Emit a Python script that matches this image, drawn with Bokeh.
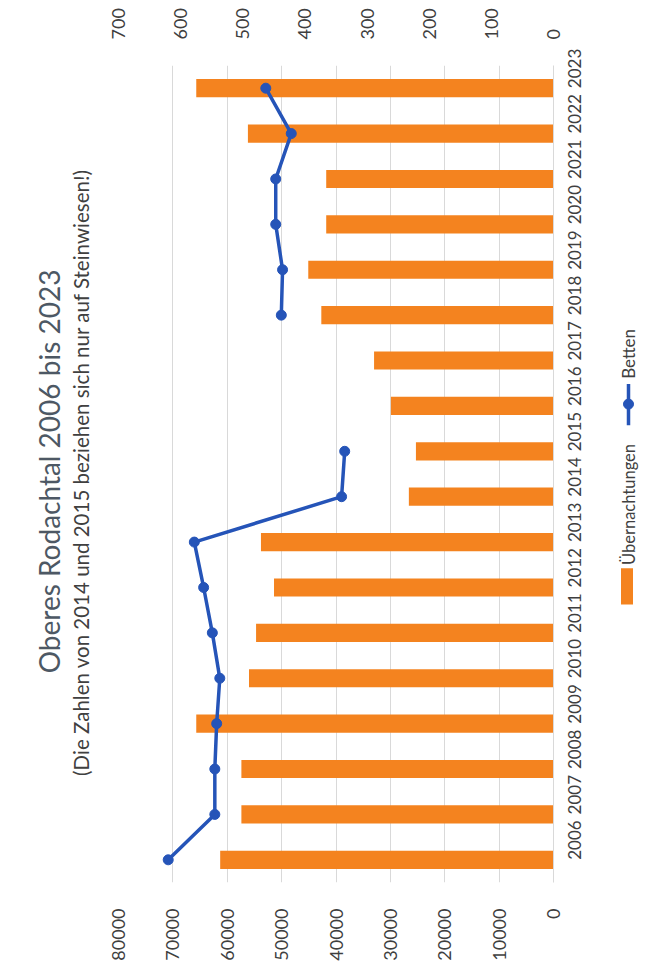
import math
from bokeh.plotting import figure
from bokeh.models import (Range1d, FactorRange, LinearAxis, FixedTicker,
                          NumeralTickFormatter)
from bokeh.layouts import row
from bokeh.embed import file_html
from bokeh.resources import INLINE
from bokeh.core.properties import value

nan = float("nan")

# ---- data ----
years = [str(y) for y in range(2006, 2024)]
uebernachtungen = [61300, 57400, 57400, 65700, 56000, 54700, 51400, 53800,
                   26600, 25300, 29900, 33000, 42700, 45100, 41800, 41800,
                   56200, 65700]
betten = [620, 545, 545, 542, 537, 549, 563, 578,
          341, 336, nan, nan, 438, 436, 447, 447, 422, 463]
left_ticks = [0, 10000, 20000, 30000, 40000, 50000, 60000, 70000, 80000]
right_ticks = [0, 100, 200, 300, 400, 500, 600, 700]
title_text = "Oberes Rodachtal 2006 bis 2023"
subtitle_text = "(Die Zahlen von 2014 und 2015 beziehen sich nur auf Steinwiesen!)"
legend_labels = ["Übernachtungen", "Betten"]

ORANGE = "#f4831f"
BLUE = "#2554b8"
FONT = "Lato"
LABEL_COLOR = "#3f3f3f"
H = 970
UP = math.pi / 2   # text reading bottom-to-top

# ---- header strip: rotated title and subtitle ----
hf = figure(width=106, height=H, x_range=Range1d(0, 106), y_range=Range1d(0, H),
            min_border=0, output_backend="svg", toolbar_location=None)
hf.axis.visible = False
hf.grid.visible = False
hf.outline_line_color = None
hf.text(x=[48], y=[H - 482], text=[title_text], angle=UP,
        text_align="center", text_baseline="middle", text_font=value(FONT),
        text_font_size="28px", text_color="#4d5864")
hf.text(x=[80], y=[H - 483], text=[subtitle_text], angle=UP,
        text_align="center", text_baseline="middle", text_font=value(FONT),
        text_font_size="20.5px", text_color="#404040")

# ---- main figure ----
p = figure(y_range=FactorRange(*years), x_range=Range1d(80000, 0),
           frame_width=435, frame_height=817,
           min_border_left=12, min_border_right=47,
           min_border_top=65, min_border_bottom=88,
           y_axis_location="right",
           output_backend="svg", toolbar_location=None)
p.outline_line_color = None

p.extra_x_ranges = {"betten": Range1d(700, 0)}

p.hbar(y=years, left=0, right=uebernachtungen, height=0.4,
       fill_color=ORANGE, line_color=None)
p.line(x=betten, y=years, x_range_name="betten", line_color=BLUE, line_width=3.5)
p.scatter(x=betten, y=years, x_range_name="betten", size=10,
          fill_color=BLUE, line_color=BLUE)

# bottom axis (Übernachtungen)
xa = p.xaxis[0]
xa.ticker = FixedTicker(ticks=left_ticks)
xa.formatter = NumeralTickFormatter(format="0")
xa.major_label_orientation = UP
xa.axis_line_color = None
xa.major_tick_line_color = None
xa.minor_tick_line_color = None
xa.major_label_standoff = 20
xa.major_label_text_font = FONT
xa.major_label_text_font_size = "18px"
xa.major_label_text_color = LABEL_COLOR

# top axis (Betten)
ta = LinearAxis(x_range_name="betten", ticker=FixedTicker(ticks=right_ticks),
                formatter=NumeralTickFormatter(format="0"))
ta.major_label_orientation = UP
ta.axis_line_color = None
ta.major_tick_line_color = None
ta.minor_tick_line_color = None
ta.major_label_standoff = 20
ta.major_label_text_font = FONT
ta.major_label_text_font_size = "18px"
ta.major_label_text_color = LABEL_COLOR
p.add_layout(ta, "above")

# category axis (years)
ya = p.yaxis[0]
ya.major_label_orientation = UP
ya.axis_line_color = "#d9d9d9"
ya.major_tick_line_color = None
ya.minor_tick_line_color = None
ya.major_label_standoff = 15
ya.major_label_text_font = FONT
ya.major_label_text_font_size = "17px"
ya.major_label_text_color = LABEL_COLOR

p.xgrid.ticker = FixedTicker(ticks=left_ticks)
p.xgrid.grid_line_color = "#d9d9d9"
p.ygrid.grid_line_color = None

# ---- legend strip (rotated, as in the reference) ----
lf = figure(width=52, height=H, x_range=Range1d(0, 52), y_range=Range1d(0, H),
            min_border=0, output_backend="svg", toolbar_location=None)
lf.axis.visible = False
lf.grid.visible = False
lf.outline_line_color = None
lf.rect(x=[26.5], y=[H - 618.5], width=12, height=43, fill_color=ORANGE, line_color=None)
lf.text(x=[28], y=[H - 593], text=[legend_labels[0]], angle=UP,
        text_align="left", text_baseline="middle", text_font=value(FONT),
        text_font_size="16.5px", text_color="#404040")
lf.line(x=[28, 28], y=[H - 427, H - 378], line_color=BLUE, line_width=3.5)
lf.scatter(x=[28], y=[H - 402], size=10, fill_color=BLUE, line_color=BLUE)
lf.text(x=[28], y=[H - 372], text=[legend_labels[1]], angle=UP,
        text_align="left", text_baseline="middle", text_font=value(FONT),
        text_font_size="17px", text_color="#404040")

layout = row(hf, p, lf)
open("out.html", "w").write(file_html(layout, INLINE))
